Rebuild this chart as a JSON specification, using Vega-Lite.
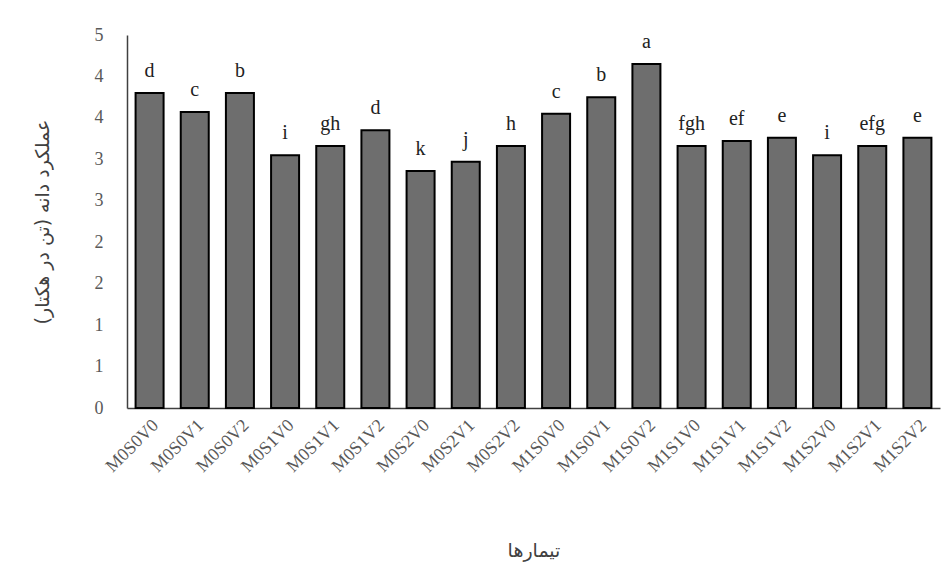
{
  "$schema": "https://vega.github.io/schema/vega-lite/v6.json",
  "width": 813,
  "height": 373,
  "autosize": {"type": "none"},
  "padding": {"left": 127, "top": 35, "right": 12, "bottom": 172},
  "background": "white",
  "config": {"view": {"stroke": null}},
  "data": {"values": [
    {"t": "M0S0V0", "v": 3.80, "g": "d"},
    {"t": "M0S0V1", "v": 3.57, "g": "c"},
    {"t": "M0S0V2", "v": 3.80, "g": "b"},
    {"t": "M0S1V0", "v": 3.05, "g": "i"},
    {"t": "M0S1V1", "v": 3.16, "g": "gh"},
    {"t": "M0S1V2", "v": 3.35, "g": "d"},
    {"t": "M0S2V0", "v": 2.86, "g": "k"},
    {"t": "M0S2V1", "v": 2.97, "g": "j"},
    {"t": "M0S2V2", "v": 3.16, "g": "h"},
    {"t": "M1S0V0", "v": 3.55, "g": "c"},
    {"t": "M1S0V1", "v": 3.75, "g": "b"},
    {"t": "M1S0V2", "v": 4.15, "g": "a"},
    {"t": "M1S1V0", "v": 3.16, "g": "fgh"},
    {"t": "M1S1V1", "v": 3.22, "g": "ef"},
    {"t": "M1S1V2", "v": 3.26, "g": "e"},
    {"t": "M1S2V0", "v": 3.05, "g": "i"},
    {"t": "M1S2V1", "v": 3.16, "g": "efg"},
    {"t": "M1S2V2", "v": 3.26, "g": "e"}
  ]},
  "encoding": {
    "x": {
      "field": "t", "type": "nominal", "sort": null,
      "scale": {"paddingInner": 0.38, "paddingOuter": 0.19},
      "axis": {
        "title": "تیمارها",
        "titleFont": "DejaVu Sans", "titleFontSize": 19, "titleFontWeight": "normal", "titleColor": "#404040",
        "titlePadding": 66,
        "labelAngle": -45, "labelFont": "Liberation Serif", "labelFontSize": 18, "labelColor": "#595959",
        "labelPadding": 8,
        "ticks": false, "domainColor": "#404040", "domainWidth": 1.5
      }
    },
    "y": {
      "field": "v", "type": "quantitative",
      "scale": {"domain": [0, 4.5], "nice": false},
      "axis": {
        "title": "عملکرد دانه (تن در هکتار)",
        "titleFont": "DejaVu Sans", "titleFontSize": 19, "titleFontWeight": "normal", "titleColor": "#404040",
        "titlePadding": 42,
        "values": [0, 0.5, 1, 1.5, 2, 2.5, 3, 3.5, 4, 4.5],
        "format": ".0f",
        "labelFont": "Liberation Serif", "labelFontSize": 18, "labelColor": "#595959",
        "labelPadding": 24,
        "ticks": false, "grid": false, "domainColor": "#404040", "domainWidth": 1.5
      }
    }
  },
  "layer": [
    {"mark": {"type": "bar", "fill": "#6e6e6e", "stroke": "#000000", "strokeWidth": 2}},
    {"mark": {"type": "text", "font": "'Liberation Serif', 'Times New Roman', serif", "fontSize": 20, "fill": "#222222", "baseline": "alphabetic", "dy": -16},
     "encoding": {"text": {"field": "g"}}}
  ]
}
